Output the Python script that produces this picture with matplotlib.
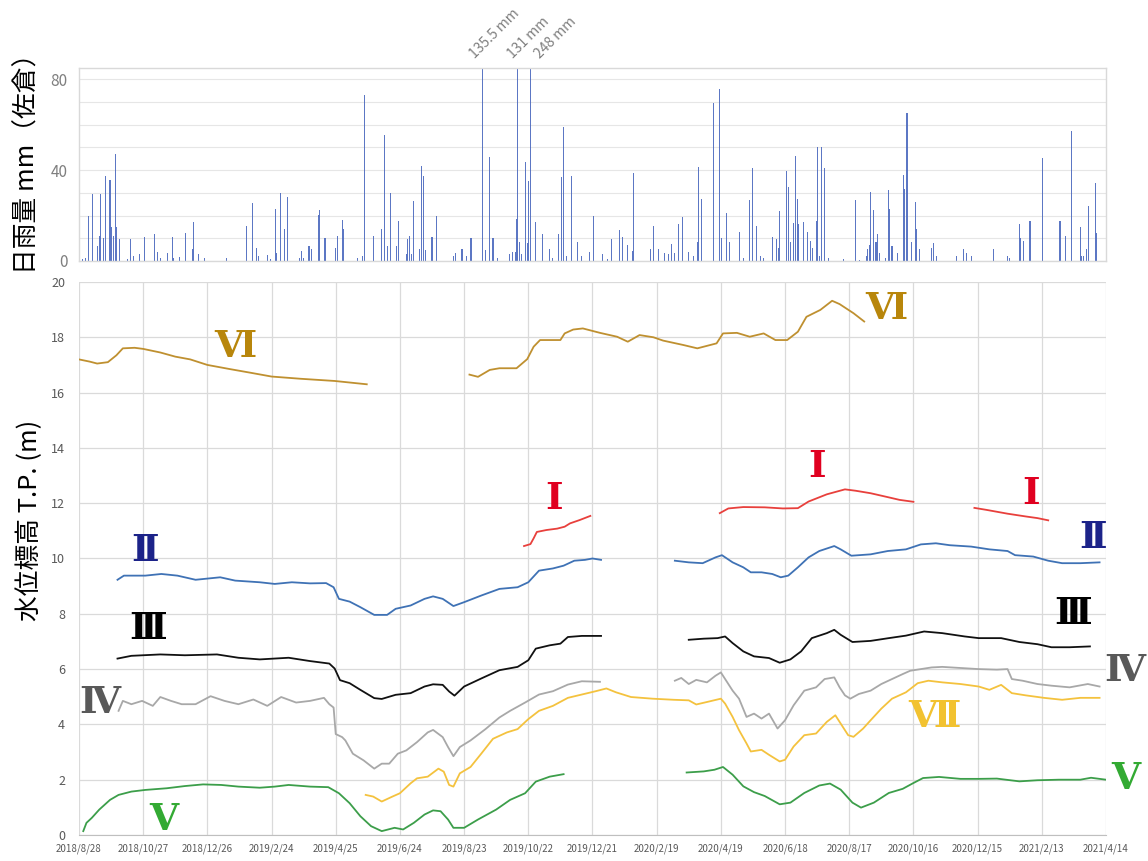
import numpy as np
import matplotlib.pyplot as plt

plt.rcParams['font.family'] = ['Noto Sans CJK JP', 'DejaVu Sans']

START = np.datetime64('2018-08-28')
N_DAYS = 960

# daily rainfall at Sakura (days since 2018/8/28, mm)
rain_day = [3, 6, 9, 13, 17, 19, 20, 23, 25, 29, 30, 32, 34, 35, 38, 45, 48, 51, 57, 61,
            71, 73, 76, 83, 87, 88, 94, 100, 106, 107, 112, 117, 138, 157, 162, 166, 168, 176, 179, 184,
            185, 188, 192, 195, 206, 208, 210, 215, 217, 224, 225, 230, 240, 242, 246, 247, 260, 265, 267, 275,
            283, 286, 288, 291, 297, 299, 306, 307, 309, 311, 313, 318, 320, 322, 324, 330, 334, 350, 352, 358,
            362, 366, 367, 377, 380, 384, 387, 391, 402, 405, 408, 409, 410, 412, 414, 417, 419, 420, 422, 427,
            433, 440, 443, 448, 451, 453, 456, 460, 466, 470, 477, 481, 489, 494, 498, 505, 508, 513, 517, 518,
            534, 537, 542, 547, 551, 554, 557, 560, 564, 570, 574, 578, 579, 582, 593, 599, 601, 605, 608, 617,
            621, 627, 630, 633, 637, 640, 648, 652, 654, 655, 661, 663, 665, 668, 670, 672, 673, 677, 681, 684,
            686, 689, 690, 692, 694, 697, 701, 715, 726, 730, 736, 737, 739, 740, 743, 745, 746, 748, 754, 757,
            758, 760, 765, 771, 772, 774, 778, 782, 783, 786, 797, 799, 802, 820, 827, 830, 834, 855, 868, 870,
            879, 880, 883, 889, 901, 917, 922, 928, 936, 937, 939, 942, 944, 950, 951]
rain_mm = [1, 1.5, 20, 29.5, 6.6, 11, 29.5, 10, 37.5, 35.8, 15, 11, 47, 15, 9.5, 0.7, 9.8, 2, 3, 10.5,
           11.7, 4, 1.5, 3.4, 10.5, 1.5, 1.8, 12.4, 5.1, 17, 3, 1.5, 1.5, 15.3, 25.5, 5.8, 2, 2.5, 0.7, 23,
           3.4, 30, 13.9, 28.2, 1.5, 4.4, 1.5, 6.6, 5.1, 20.4, 22.3, 10.2, 5.8, 11.2, 18.2, 13.9, 1.5, 2.2, 73, 11,
           14.2, 55.5, 6.6, 30, 6.6, 17.5, 3, 9.5, 11, 3, 26.6, 5.4, 41.9, 37.5, 5, 10.5, 19.7, 2.2, 3.4, 5.4,
           2, 9.9, 9.9, 135.5, 5, 45.8, 9.9, 1.5, 3, 4, 4, 18.5, 131, 8.3, 3, 43.4, 8, 35, 248, 17,
           11.7, 5.1, 1.5, 11.7, 36.8, 59.1, 2, 37.5, 8.5, 2, 4, 19.7, 3, 0.7, 9.5, 13.6, 10.5, 6.9, 4.4, 38.7,
           5.1, 15.3, 5.4, 3.4, 3, 7.3, 3.4, 16.1, 19.4, 4, 2.2, 8.3, 41.3, 27.3, 69.6, 75.6, 9.9, 21.2, 8.3, 12.8,
           1.5, 26.7, 40.9, 15.3, 2, 1.5, 10.5, 9.5, 5.8, 21.9, 39.7, 32.4, 8.3, 16.8, 46.3, 27.3, 16.1, 17, 12.7, 8.8,
           5.8, 17.5, 50.4, 2.2, 50.4, 40.9, 1.5, 0.7, 27, 0.4, 2.2, 5.4, 6.9, 30.4, 22.3, 8.3, 11.7, 3.4, 1.5, 31.4,
           23.1, 6.6, 3.4, 37.7, 31.8, 65, 8.3, 25.8, 13.9, 5.1, 5.8, 7.7, 2, 2, 5.1, 3.4, 2, 5.4, 2.2, 1.5,
           16.4, 9.9, 8.8, 17.5, 45.3, 17.8, 11.2, 57.2, 14.9, 2.2, 2, 5.1, 24.4, 34.3, 12.4]
RAIN_TOP = 85
# days at which the off-scale totals are written
big_label_day = [368, 403, 428]

# groundwater level T.P. (m), days since 2018/8/28
vi_a_day = [0, 10, 17, 27, 35, 41, 52, 60, 76, 90, 104, 120, 141, 160, 180, 207, 239, 269]
vi_a_val = [17.2, 17.12, 17.05, 17.1, 17.35, 17.6, 17.62, 17.58, 17.45, 17.3, 17.2, 17.0, 16.85, 16.72,
            16.58, 16.5, 16.42, 16.3]
vi_b_day = [365, 373, 384, 393, 409, 419, 425, 431, 450, 454, 462, 471, 487, 503, 513, 524, 537, 546, 565,
            578, 596, 602, 615, 627, 640, 651, 662, 672, 680, 693, 704, 711, 724, 734]
vi_b_val = [16.65, 16.57, 16.82, 16.88, 16.88, 17.21, 17.66, 17.9, 17.9, 18.14, 18.28, 18.32, 18.16, 18.02,
            17.84, 18.08, 18.0, 17.88, 17.72, 17.6, 17.78, 18.14, 18.16, 18.02, 18.14, 17.9, 17.9, 18.2, 18.74,
            18.99, 19.32, 19.2, 18.87, 18.57]

i_a_day = [416, 422, 425, 428, 437, 447, 454, 459, 468, 478]
i_a_val = [10.45, 10.52, 10.73, 10.96, 11.03, 11.08, 11.15, 11.27, 11.39, 11.54]
i_b_day = [599, 607, 621, 641, 658, 672, 682, 699, 716, 726, 740, 757, 767, 780]
i_b_val = [11.64, 11.81, 11.86, 11.85, 11.81, 11.82, 12.06, 12.32, 12.5, 12.45, 12.36, 12.21, 12.12, 12.05]
i_c_day = [837, 848, 868, 885, 896, 906]
i_c_val = [11.83, 11.76, 11.62, 11.52, 11.46, 11.38]

ii_a_day = [36, 42, 62, 77, 92, 109, 132, 146, 169, 183, 199, 216, 231, 238, 243, 253, 263, 276, 288, 296,
            310, 323, 331, 340, 350, 360, 376, 393, 410, 420, 430, 443, 453, 463, 473, 480, 488]
ii_a_val = [9.23, 9.38, 9.38, 9.44, 9.38, 9.23, 9.32, 9.2, 9.14, 9.08, 9.14, 9.1, 9.11, 8.96, 8.54, 8.44,
            8.24, 7.96, 7.96, 8.18, 8.3, 8.54, 8.63, 8.54, 8.28, 8.42, 8.66, 8.9, 8.96, 9.14, 9.56, 9.64, 9.74,
            9.92, 9.95, 10.0, 9.95]
ii_b_day = [557, 570, 583, 595, 601, 611, 621, 628, 638, 648, 656, 663, 672, 682, 692, 706, 712, 722, 740,
            756, 773, 787, 801, 814, 834, 851, 868, 875, 892, 906, 919, 936, 954]
ii_b_val = [9.92, 9.86, 9.83, 10.04, 10.12, 9.86, 9.68, 9.5, 9.5, 9.44, 9.32, 9.38, 9.68, 10.04, 10.27,
            10.45, 10.33, 10.1, 10.15, 10.27, 10.33, 10.51, 10.55, 10.48, 10.43, 10.33, 10.27, 10.12, 10.07,
            9.92, 9.83, 9.83, 9.86]

iii_a_day = [36, 49, 76, 99, 129, 149, 169, 196, 216, 234, 239, 244, 253, 263, 276, 283, 296, 310, 323, 331,
             340, 346, 351, 360, 376, 393, 410, 420, 427, 440, 450, 457, 470, 488]
iii_a_val = [6.38, 6.48, 6.53, 6.5, 6.53, 6.41, 6.35, 6.41, 6.29, 6.2, 6.02, 5.6, 5.49, 5.25, 4.95, 4.92,
             5.07, 5.13, 5.37, 5.45, 5.43, 5.19, 5.04, 5.37, 5.66, 5.96, 6.08, 6.32, 6.74, 6.86, 6.92, 7.16,
             7.2, 7.2]
iii_b_day = [570, 584, 597, 604, 611, 621, 631, 645, 655, 665, 675, 685, 699, 706, 712, 723, 740, 757, 773,
             790, 807, 828, 841, 862, 879, 896, 909, 926, 945]
iii_b_val = [7.06, 7.1, 7.12, 7.18, 6.94, 6.64, 6.46, 6.4, 6.23, 6.35, 6.64, 7.12, 7.3, 7.42, 7.24, 6.98,
             7.02, 7.12, 7.21, 7.36, 7.3, 7.18, 7.12, 7.12, 6.98, 6.9, 6.79, 6.79, 6.82]

iv_a_day = [37, 41, 49, 59, 69, 76, 86, 96, 109, 123, 136, 149, 163, 176, 189, 203, 216, 229, 234, 238,
            240, 246, 249, 256, 266, 276, 283, 290, 298, 306, 316, 326, 331, 340, 345, 350, 356, 366, 380,
            393, 403, 417, 430, 443, 457, 470, 487]
iv_a_val = [4.49, 4.85, 4.73, 4.85, 4.67, 4.99, 4.85, 4.73, 4.73, 5.02, 4.85, 4.73, 4.9, 4.67, 4.99, 4.79,
            4.85, 4.96, 4.73, 4.61, 3.65, 3.54, 3.42, 2.94, 2.7, 2.4, 2.58, 2.58, 2.94, 3.06, 3.36, 3.71, 3.8,
            3.54, 3.18, 2.85, 3.18, 3.42, 3.83, 4.25, 4.49, 4.79, 5.08, 5.2, 5.44, 5.56, 5.54]
iv_b_day = [557, 563, 570, 577, 587, 595, 600, 604, 611, 617, 624, 631, 638, 645, 653, 660, 668, 678, 689,
            697, 706, 711, 716, 721, 729, 740, 750, 760, 770, 777, 787, 797, 807, 824, 841, 858, 868, 872, 882,
            896, 909, 926, 943, 954]
iv_b_val = [5.58, 5.68, 5.46, 5.61, 5.52, 5.76, 5.88, 5.64, 5.22, 4.93, 4.27, 4.39, 4.21, 4.39, 3.85, 4.15,
            4.69, 5.22, 5.34, 5.64, 5.7, 5.34, 5.05, 4.93, 5.1, 5.22, 5.46, 5.64, 5.82, 5.94, 6.0, 6.06, 6.08,
            6.04, 6.0, 5.98, 6.0, 5.64, 5.58, 5.46, 5.4, 5.34, 5.46, 5.37]

vii_day = [268, 275, 283, 293, 300, 310, 316, 326, 336, 341, 346, 350, 356, 366, 376, 387, 400, 410, 420,
           430, 443, 457, 470, 483, 493, 502, 516, 536, 556, 570, 577, 587, 600, 604, 611, 617, 624, 628, 638,
           645, 655, 660, 668, 678, 689, 699, 707, 712, 719, 724, 733, 740, 750, 760, 773, 784, 794, 807, 824,
           841, 851, 862, 872, 885, 902, 919, 936, 954]
vii_val = [1.45, 1.39, 1.21, 1.39, 1.51, 1.87, 2.05, 2.11, 2.4, 2.29, 1.81, 1.75, 2.23, 2.46, 2.94, 3.48,
           3.71, 3.83, 4.19, 4.49, 4.67, 4.96, 5.08, 5.2, 5.3, 5.16, 4.99, 4.93, 4.89, 4.87, 4.72, 4.81, 4.93,
           4.75, 4.27, 3.79, 3.31, 3.02, 3.08, 2.9, 2.66, 2.72, 3.2, 3.61, 3.67, 4.09, 4.33, 4.03, 3.61, 3.55,
           3.85, 4.15, 4.57, 4.93, 5.16, 5.49, 5.58, 5.52, 5.46, 5.37, 5.25, 5.43, 5.13, 5.05, 4.96, 4.89,
           4.96, 4.96]

v_a_day = [4, 7, 12, 19, 29, 37, 49, 62, 82, 99, 116, 133, 149, 169, 183, 196, 216, 233, 243, 253, 263,
           273, 283, 295, 303, 313, 323, 331, 338, 345, 350, 360, 373, 390, 403, 417, 427, 440, 453]
v_a_val = [0.14, 0.44, 0.62, 0.92, 1.27, 1.45, 1.57, 1.63, 1.69, 1.77, 1.83, 1.81, 1.75, 1.71, 1.75, 1.81,
           1.75, 1.73, 1.51, 1.15, 0.68, 0.32, 0.14, 0.26, 0.2, 0.44, 0.74, 0.89, 0.86, 0.56, 0.26, 0.26,
           0.56, 0.92, 1.27, 1.51, 1.93, 2.11, 2.2]
v_b_day = [568, 584, 594, 602, 611, 621, 631, 641, 655, 665, 678, 692, 702, 712, 723, 731, 743, 757, 770,
           780, 789, 804, 824, 841, 858, 879, 896, 916, 936, 946, 960]
v_b_val = [2.26, 2.3, 2.36, 2.46, 2.18, 1.76, 1.55, 1.41, 1.11, 1.17, 1.52, 1.79, 1.86, 1.64, 1.17, 0.99,
           1.17, 1.52, 1.67, 1.88, 2.06, 2.1, 2.03, 2.03, 2.04, 1.94, 1.98, 2.0, 2.0, 2.07, 2.0]

# well names and where they are written (day, level)
well_names = ['Ⅵ', 'Ⅵ', 'Ⅰ', 'Ⅰ', 'Ⅰ', 'Ⅱ', 'Ⅱ', 'Ⅲ', 'Ⅲ', 'Ⅳ', 'Ⅳ', 'Ⅶ', 'Ⅴ', 'Ⅴ']
name_day = [146, 755, 444, 690, 890, 62, 948, 65, 929, 19, 978, 800, 79, 979]
name_level = [17.66, 19.05, 12.17, 13.31, 12.36, 10.28, 10.75, 7.46, 8.0, 4.8, 5.95, 4.27, 0.56, 2.06]

tick_labels = ['2018/8/28', '2018/10/27', '2018/12/26', '2019/2/24', '2019/4/25', '2019/6/24', '2019/8/23',
               '2019/10/22', '2019/12/21', '2020/2/19', '2020/4/19', '2020/6/18', '2020/8/17', '2020/10/16',
               '2020/12/15', '2021/2/13', '2021/4/14']

colors = {'Ⅰ': ('#E8403C', '#E00020'), 'Ⅱ': ('#3F72B5', '#1C2389'), 'Ⅲ': ('#111111', '#000000'),
          'Ⅳ': ('#A8A8A8', '#595959'), 'Ⅴ': ('#3C9E4A', '#33AA33'), 'Ⅵ': ('#BF9030', '#B8860B'),
          'Ⅶ': ('#F4C23E', '#F2C230')}


def dates(days):
    return START + np.array(days, dtype='timedelta64[D]')


fig = plt.figure(figsize=(11.48, 8.61), dpi=100)
ax_r = fig.add_axes([0.0688, 0.6969, 0.8946, 0.2242])
ax = fig.add_axes([0.0688, 0.0302, 0.8946, 0.6423])

x0, x1 = dates([0])[0], dates([N_DAYS])[0]
grid_c = '#DADADA'

# rainfall bars
ax_r.bar(dates(rain_day), rain_mm, width=1.0, color='#4A68BE', linewidth=0, alpha=0.9)
ax_r.set_xlim(x0, x1)
ax_r.set_ylim(0, RAIN_TOP)
ax_r.set_yticks([0, 40, 80])
ax_r.set_yticks(np.arange(10, 81, 10), minor=True)
ax_r.grid(True, which='both', axis='y', color='#E6E6E6', lw=0.8)
ax_r.set_axisbelow(True)
ax_r.set_xticks([])
ax_r.tick_params(axis='y', which='both', length=0, labelsize=11, labelcolor='#7F7F7F', pad=8)
for s in ax_r.spines.values():
    s.set_color('#D9D9D9')
    s.set_linewidth(1.0)
big = [mm for mm in rain_mm if mm > RAIN_TOP]
for d, mm in zip(big_label_day, big):
    ax_r.text(dates([d])[0], RAIN_TOP + 5, f'{mm:g} mm', rotation=45, rotation_mode='anchor',
              ha='left', va='center', fontsize=10, color='#7F7F7F', clip_on=False)

# water level lines
series = [('Ⅵ', vi_a_day, vi_a_val), ('Ⅵ', vi_b_day, vi_b_val),
          ('Ⅰ', i_a_day, i_a_val), ('Ⅰ', i_b_day, i_b_val), ('Ⅰ', i_c_day, i_c_val),
          ('Ⅱ', ii_a_day, ii_a_val), ('Ⅱ', ii_b_day, ii_b_val),
          ('Ⅲ', iii_a_day, iii_a_val), ('Ⅲ', iii_b_day, iii_b_val),
          ('Ⅳ', iv_a_day, iv_a_val), ('Ⅳ', iv_b_day, iv_b_val),
          ('Ⅶ', vii_day, vii_val),
          ('Ⅴ', v_a_day, v_a_val), ('Ⅴ', v_b_day, v_b_val)]
for name, d, v in series:
    ax.plot(dates(d), v, color=colors[name][0], lw=1.3)

for name, d, lv in zip(well_names, name_day, name_level):
    ax.text(dates([d])[0], lv, name, ha='center', va='center', fontsize=27, fontweight='bold',
            family=['DejaVu Serif', 'Noto Sans CJK JP'], color=colors[name][1], clip_on=False)

ax.set_xlim(x0, x1)
ax.set_ylim(0, 20)
ax.set_yticks(np.arange(0, 21, 2))
ax.set_xticks(dates(np.arange(0, N_DAYS + 1, 60)))
ax.set_xticklabels(tick_labels)
ax.grid(True, color=grid_c, lw=0.9)
ax.set_axisbelow(True)
ax.tick_params(length=0, labelcolor='#595959')
ax.tick_params(axis='y', labelsize=9, pad=10)
ax.tick_params(axis='x', labelsize=7, pad=6)
for k in ['top', 'right', 'left']:
    ax.spines[k].set_visible(False)
ax.spines['bottom'].set_color('#BFBFBF')

fig.text(0.024, 1 - 157 / 861, '日雨量 mm（佐倉）', rotation=90, ha='center', va='center', fontsize=18.5)
fig.text(0.026, 1 - 520 / 861, '水位標高 T.P. (m)', rotation=90, ha='center', va='center', fontsize=18.5)

fig.savefig('out.png', dpi=100)
